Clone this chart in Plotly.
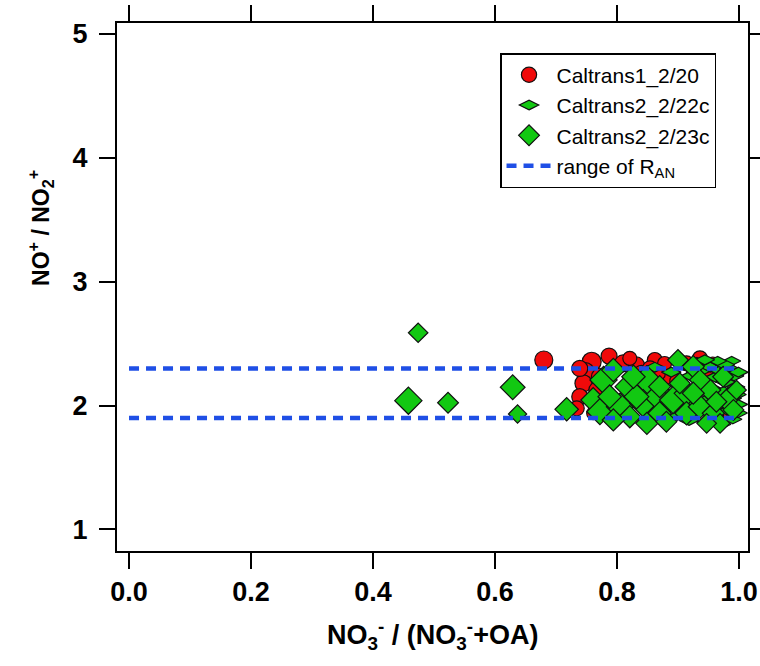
import plotly.graph_objects as go

# Caltrans1_2/20 (red circles)
x_c1 = [0.680, 0.7585, 0.787, 0.748, 0.745, 0.739, 0.734, 0.810, 0.832, 0.862,
        0.840, 0.887, 0.898, 0.936, 0.947, 0.854, 0.767, 0.772, 0.821, 0.867,
        0.878, 0.914, 0.925, 0.957, 0.969, 0.761, 0.840, 0.903, 0.970, 0.739]
y_c1 = [2.368, 2.354, 2.400, 2.274, 2.180, 2.072, 1.978, 2.341, 2.328, 2.368,
        2.260, 2.233, 2.200, 2.382, 2.287, 2.300, 2.126, 2.233, 2.382, 2.260,
        2.340, 2.341, 2.260, 2.340, 2.260, 1.938, 2.100, 1.940, 1.920, 2.300]
s_c1 = [18, 19, 16, 18, 17, 16, 15, 17, 16, 15,
        16, 15, 14, 15, 14, 15, 16, 17, 14, 15,
        14, 15, 14, 13, 14, 13, 14, 13, 13, 16]

# Caltrans2_2/22c (wide diamonds)
x_c22 = [0.862, 0.874, 0.881, 0.889, 0.896, 0.903, 0.908, 0.912, 0.918, 0.922,
         0.927, 0.931, 0.934, 0.938, 0.942, 0.945, 0.949, 0.953, 0.956, 0.959,
         0.962, 0.966, 0.969, 0.972, 0.975, 0.978, 0.981, 0.984, 0.987, 0.990,
         0.992, 0.995, 0.997, 0.999, 0.999, 0.996, 0.988, 0.977, 0.965, 0.944]
y_c22 = [2.31, 2.12, 1.98, 2.27, 1.91, 2.16, 2.33, 2.02, 1.88, 2.24,
         2.09, 2.35, 1.95, 2.19, 2.29, 1.87, 2.05, 2.31, 2.14, 1.92,
         2.23, 2.00, 2.28, 1.85, 2.11, 2.19, 1.96, 2.30, 2.06, 1.89,
         2.24, 2.15, 2.01, 2.27, 1.94, 2.09, 2.36, 2.33, 2.36, 2.37]
s_c22 = [14, 13, 15, 14, 13, 15, 14, 13, 14, 15,
         13, 14, 15, 13, 14, 13, 15, 14, 13, 14,
         15, 13, 14, 13, 15, 14, 13, 14, 15, 13,
         14, 13, 15, 14, 13, 14, 13, 14, 13, 14]

# Caltrans2_2/23c (diamonds)
x_c23 = [0.474, 0.458, 0.523, 0.629, 0.637, 0.7175, 0.778, 0.794, 0.761, 0.772,
         0.805, 0.816, 0.849, 0.843, 0.865, 0.870, 0.892, 0.900, 0.914, 0.925,
         0.914, 0.936, 0.952, 0.958, 0.974, 0.980, 0.996, 0.991, 0.969, 0.849,
         0.881, 0.821, 0.788, 0.832, 0.794, 0.827, 0.870, 0.903, 0.936, 0.947,
         0.925, 0.963]
y_c23 = [2.588, 2.040, 2.023, 2.148, 1.932, 1.970, 2.207, 2.287, 2.045, 1.951,
         1.991, 2.153, 2.207, 2.019, 2.072, 1.938, 2.045, 2.368, 2.099, 2.314,
         1.938, 1.991, 2.126, 1.938, 2.233, 2.045, 2.126, 1.965, 1.857, 1.857,
         1.870, 1.910, 2.072, 2.072, 1.884, 2.233, 2.153, 2.180, 2.207, 1.857,
         2.100, 2.031]
s_c23 = [15, 21, 16, 19, 14, 18, 21, 18, 19, 20,
         21, 18, 22, 21, 19, 18, 21, 16, 19, 17,
         18, 18, 17, 17, 16, 17, 15, 16, 15, 17,
         16, 17, 18, 19, 17, 18, 17, 16, 16, 15,
         17, 16]

# range of R_AN
ran_low, ran_high = 1.9, 2.3
ran_x0, ran_x1 = 0.0, 1.0

red = "#f00a0a"
green = "#12c812"
blue = "#1f4fe6"
outline = dict(color="#111111", width=1.2)

fig = go.Figure()
fig.add_trace(go.Scatter(
    x=x_c1, y=y_c1, mode="markers", name="Caltrans1_2/20",
    marker=dict(symbol="circle", size=s_c1, color=red, opacity=1, line=outline)))
fig.add_trace(go.Scatter(
    x=x_c22, y=y_c22, mode="markers", name="Caltrans2_2/22c",
    marker=dict(symbol="diamond-wide", size=s_c22, color=green, opacity=1, line=outline)))
fig.add_trace(go.Scatter(
    x=x_c23, y=y_c23, mode="markers", name="Caltrans2_2/23c",
    marker=dict(symbol="diamond", size=s_c23, color=green, opacity=1, line=outline)))
fig.add_trace(go.Scatter(
    x=[ran_x0, ran_x1, None, ran_x0, ran_x1],
    y=[ran_high, ran_high, None, ran_low, ran_low],
    mode="lines", name="range of R<sub>AN</sub>",
    line=dict(color=blue, width=4.5, dash="10px,7px")))

font_family = "Liberation Sans, Arial, sans-serif"
axis_common = dict(
    showline=True, linewidth=2, linecolor="black", mirror="allticks",
    ticks="outside", ticklen=16, tickwidth=2, tickcolor="black",
    showgrid=False, zeroline=False,
    tickfont=dict(family=font_family, size=27, color="black", weight="bold"),
)

fig.update_xaxes(
    range=[-0.0197, 1.0148], tickvals=[0, 0.2, 0.4, 0.6, 0.8, 1.0],
    ticktext=["0.0", "0.2", "0.4", "0.6", "0.8", "1.0"],
    **axis_common)
fig.update_yaxes(
    range=[0.826, 5.089], tickvals=[1, 2, 3, 4, 5],
    ticklabelstandoff=6,
    **axis_common)

# axis titles
fig.add_annotation(
    text="NO<sub>3</sub><sup>-</sup> / (NO<sub>3</sub><sup>-</sup>+OA)",
    xref="paper", yref="paper", x=0.5, y=-0.159, xanchor="center", yanchor="middle",
    showarrow=False,
    font=dict(family=font_family, size=27, color="black", weight="bold"))
fig.add_annotation(
    text="NO<sup>+</sup> / NO<sub>2</sub><sup>+</sup>",
    xref="paper", yref="paper", x=-0.122, y=0.612, xanchor="center", yanchor="middle",
    textangle=-90, showarrow=False,
    font=dict(family=font_family, size=23, color="black", weight="bold"))

fig.update_layout(
    width=760, height=666,
    margin=dict(l=117, r=12, t=23, b=115, autoexpand=False),
    plot_bgcolor="white", paper_bgcolor="white",
    font=dict(family=font_family, color="black"),
    legend=dict(
        x=0.607, y=0.943, xanchor="left", yanchor="top",
        bgcolor="white", bordercolor="black", borderwidth=1.5,
        font=dict(family=font_family, size=21, color="black"),
        itemsizing="trace", itemwidth=45, tracegroupgap=0),
    showlegend=True,
)

fig.write_html("out.html")
